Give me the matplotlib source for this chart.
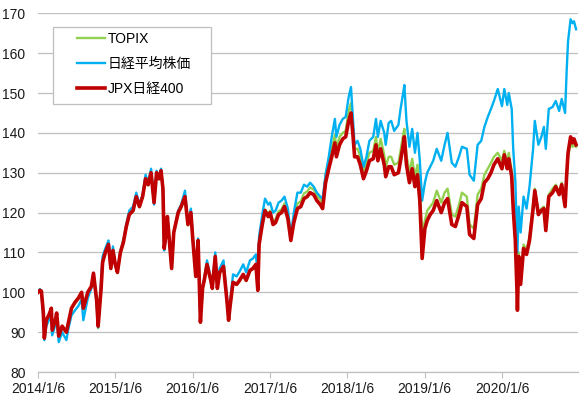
import matplotlib
matplotlib.use("Agg")
import matplotlib.pyplot as plt
from matplotlib.patches import Rectangle
import pandas as pd

plt.rcParams['font.family'] = ['Liberation Sans', 'Noto Sans CJK JP', 'DejaVu Sans']

# 2014/1/6 = 100 (読み取り値)
dates = [
    # 2014
    "2014-01-06", "2014-01-15", "2014-01-22", "2014-01-31", "2014-02-05", "2014-02-14", "2014-02-28",
    "2014-03-10", "2014-03-14", "2014-03-31", "2014-04-04", "2014-04-14", "2014-04-30", "2014-05-20",
    "2014-05-30", "2014-06-13", "2014-06-30", "2014-07-15", "2014-07-31", "2014-08-08", "2014-08-29",
    "2014-09-15", "2014-09-25", "2014-10-10", "2014-10-17", "2014-10-31", "2014-11-07", "2014-11-20",
    "2014-12-05", "2014-12-16", "2014-12-26",
    # 2015
    "2015-01-06", "2015-01-16", "2015-01-30", "2015-02-13", "2015-02-27", "2015-03-13", "2015-03-31",
    "2015-04-15", "2015-04-30", "2015-05-15", "2015-05-29", "2015-06-10", "2015-06-24", "2015-07-08",
    "2015-07-20", "2015-07-31", "2015-08-10", "2015-08-19", "2015-08-25", "2015-09-01", "2015-09-09",
    "2015-09-29", "2015-10-09", "2015-10-30", "2015-11-13", "2015-12-01", "2015-12-15", "2015-12-29",
    # 2016
    "2016-01-06", "2016-01-12", "2016-01-21", "2016-02-01", "2016-02-12", "2016-02-22", "2016-03-01",
    "2016-03-14", "2016-04-01", "2016-04-08", "2016-04-22", "2016-05-02", "2016-05-13", "2016-05-31",
    "2016-06-16", "2016-06-24", "2016-07-01", "2016-07-15", "2016-08-01", "2016-08-15", "2016-09-01",
    "2016-09-15", "2016-10-03", "2016-10-17", "2016-10-31", "2016-11-09", "2016-11-15", "2016-11-30",
    "2016-12-13", "2016-12-28",
    # 2017
    "2017-01-06", "2017-01-20", "2017-02-01", "2017-02-15", "2017-03-01", "2017-03-15", "2017-03-31",
    "2017-04-14", "2017-04-28", "2017-05-15", "2017-05-31", "2017-06-15", "2017-06-30", "2017-07-14",
    "2017-07-31", "2017-08-15", "2017-08-31", "2017-09-11", "2017-09-25", "2017-10-10", "2017-10-24",
    "2017-11-08", "2017-11-15", "2017-11-30", "2017-12-15", "2017-12-29",
    # 2018
    "2018-01-12", "2018-01-23", "2018-02-02", "2018-02-09", "2018-02-23", "2018-03-08", "2018-03-23",
    "2018-04-06", "2018-04-20", "2018-05-08", "2018-05-21", "2018-05-30", "2018-06-12", "2018-06-29",
    "2018-07-06", "2018-07-20", "2018-08-01", "2018-08-15", "2018-09-04", "2018-09-14", "2018-09-28",
    "2018-10-02", "2018-10-12", "2018-10-26", "2018-11-08", "2018-11-21", "2018-12-03", "2018-12-14",
    "2018-12-25",
    # 2019
    "2019-01-07", "2019-01-18", "2019-02-01", "2019-02-15", "2019-03-04", "2019-03-25", "2019-04-10",
    "2019-04-24", "2019-05-14", "2019-05-31", "2019-06-17", "2019-07-01", "2019-07-24", "2019-08-06",
    "2019-08-26", "2019-09-13", "2019-09-30", "2019-10-15", "2019-10-31", "2019-11-15", "2019-11-29",
    "2019-12-17",
    # 2020
    "2020-01-06", "2020-01-17", "2020-01-31", "2020-02-07", "2020-02-21", "2020-02-28", "2020-03-09",
    "2020-03-17", "2020-03-19", "2020-03-25", "2020-04-03", "2020-04-17", "2020-05-01", "2020-05-15",
    "2020-06-01", "2020-06-09", "2020-06-26", "2020-07-10", "2020-07-22", "2020-07-31", "2020-08-14",
    "2020-09-01", "2020-09-16", "2020-10-02", "2020-10-14", "2020-10-30", "2020-11-06", "2020-11-13",
    "2020-11-25", "2020-12-04", "2020-12-11", "2020-12-21",
]

jpx400 = [
    # 2014
    100.0, 100.5, 100.3, 95.0, 88.5, 93.0, 94.5, 96.0, 90.5, 93.5, 94.8, 89.0, 91.5, 90.0,
    92.5, 96.0, 97.5, 98.5, 100.0, 96.0, 100.0, 101.5, 104.8, 98.0, 91.5, 101.0, 107.5, 110.0,
    112.0, 106.0, 110.5,
    # 2015
    107.0, 105.0, 110.0, 112.5, 116.5, 119.5, 120.5, 124.0, 121.5, 124.0, 128.5, 127.0, 130.0, 122.5,
    130.0, 128.5, 130.5, 126.0, 111.0, 114.0, 119.0, 106.0, 115.0, 120.0, 121.5, 124.0, 117.0, 120.0,
    # 2016
    114.0, 110.0, 104.0, 113.0, 92.5, 101.0, 103.0, 107.0, 103.0, 101.0, 109.0, 101.0, 105.0, 106.5,
    98.0, 93.0, 96.5, 102.5, 102.0, 103.0, 104.5, 103.0, 105.5, 106.0, 107.0, 100.5, 112.0, 117.0,
    120.5, 119.0,
    # 2017
    120.0, 117.0, 117.5, 119.5, 120.0, 121.5, 118.5, 113.0, 117.5, 121.0, 121.5, 123.5, 124.0, 125.0,
    124.5, 123.0, 122.0, 121.0, 127.5, 131.0, 134.0, 137.5, 134.0, 137.0, 138.5, 139.0,
    # 2018
    143.0, 145.0, 139.0, 134.0, 134.0, 132.0, 128.5, 130.5, 133.0, 133.5, 137.0, 133.0, 136.0, 132.0,
    129.0, 131.5, 131.5, 129.5, 130.0, 133.0, 137.5, 139.0, 132.0, 127.5, 131.0, 126.5, 129.5, 123.0,
    108.5,
    # 2019
    116.0, 118.0, 119.5, 120.5, 123.0, 120.0, 122.5, 123.5, 117.0, 116.5, 119.5, 122.5, 121.5, 114.5,
    113.5, 122.0, 123.5, 127.5, 128.5, 130.0, 132.0, 133.5,
    # 2020
    131.0, 134.5, 131.0, 133.5, 129.0, 121.0, 113.0, 100.0, 95.5, 109.0, 102.0, 111.0, 109.5, 113.0,
    121.0, 125.5, 119.5, 120.5, 121.0, 115.5, 124.0, 125.0, 126.5, 124.5, 127.0, 121.5, 129.0, 135.0,
    139.0, 137.5, 138.5, 137.0,
]

topix = [
    # 2014
    100.0, 100.3, 100.0, 95.0, 89.0, 92.8, 94.2, 95.8, 90.3, 93.3, 94.5, 89.0, 91.3, 89.8,
    92.3, 95.8, 97.3, 98.3, 99.8, 95.8, 99.8, 101.3, 104.5, 97.8, 91.0, 100.8, 107.3, 109.8,
    111.8, 105.8, 110.3,
    # 2015
    106.8, 104.8, 109.8, 112.3, 116.3, 119.3, 120.3, 123.8, 121.3, 123.8, 128.3, 126.8, 129.8, 122.3,
    129.8, 128.3, 130.3, 125.8, 110.8, 113.8, 118.8, 105.8, 114.8, 119.8, 121.3, 123.8, 116.8, 119.8,
    # 2016
    113.8, 109.8, 103.8, 112.8, 92.3, 100.8, 102.8, 106.8, 102.8, 100.8, 108.8, 100.8, 104.8, 106.3,
    97.8, 92.8, 96.3, 102.3, 101.8, 102.8, 104.3, 102.8, 105.3, 105.8, 106.8, 100.5, 112.0, 117.2,
    120.8, 119.5,
    # 2017
    120.5, 117.8, 118.3, 120.3, 120.8, 122.3, 119.3, 113.8, 118.5, 122.3, 122.8, 124.8, 125.3, 126.3,
    125.8, 124.3, 123.3, 122.3, 129.5, 133.0, 136.0, 139.5, 136.0, 139.0, 140.0, 140.5,
    # 2018
    145.5, 147.5, 141.0, 136.0, 136.0, 134.0, 130.5, 132.5, 135.0, 135.5, 139.0, 135.0, 138.5, 134.5,
    131.5, 134.0, 134.0, 132.0, 132.5, 135.5, 140.0, 141.0, 134.5, 130.0, 133.5, 129.0, 132.0, 125.5,
    115.0,
    # 2019
    118.0, 120.5, 121.5, 122.5, 125.5, 122.5, 125.0, 126.0, 119.5, 119.0, 122.0, 125.0, 124.0, 117.0,
    116.0, 124.5, 126.0, 129.5, 131.0, 132.5, 134.0, 135.0,
    # 2020
    133.0, 135.5, 132.5, 135.0, 130.5, 122.5, 114.5, 101.0, 96.5, 110.0, 103.0, 112.0, 110.5, 114.0,
    122.0, 126.0, 120.0, 121.0, 121.5, 116.5, 124.5, 126.0, 127.0, 125.0, 127.5, 122.0, 129.0, 134.0,
    137.5, 136.5, 137.0, 136.5,
]

nikkei = [
    # 2014
    100.0, 100.8, 100.2, 93.8, 88.0, 91.5, 93.2, 94.8, 89.2, 92.2, 93.5, 87.5, 90.0, 88.0,
    91.0, 94.2, 95.5, 96.5, 98.2, 93.0, 98.5, 101.0, 104.5, 97.0, 91.2, 103.0, 109.0, 111.0,
    113.0, 106.0, 111.5,
    # 2015
    107.0, 105.2, 110.3, 113.0, 117.0, 120.5, 121.5, 125.0, 122.0, 124.5, 129.5, 127.5, 131.0, 122.0,
    130.5, 129.0, 131.0, 126.0, 110.5, 114.0, 119.0, 106.0, 115.0, 120.5, 122.0, 125.5, 117.5, 121.0,
    # 2016
    114.5, 110.3, 104.0, 113.5, 93.0, 101.5, 103.5, 108.0, 103.5, 101.5, 110.0, 101.8, 106.0, 108.0,
    98.5, 93.2, 97.5, 104.5, 104.0, 105.2, 107.0, 105.0, 108.0, 108.5, 109.5, 104.0, 114.0, 119.5,
    123.5, 122.0,
    # 2017
    122.5, 120.0, 120.5, 122.5, 123.0, 124.0, 121.0, 114.0, 120.0, 125.0, 125.0, 127.0, 126.5, 127.5,
    126.5, 125.0, 124.0, 123.5, 129.5, 134.0, 139.0, 143.5, 139.0, 142.0, 143.5, 144.0,
    # 2018
    149.0, 151.5, 143.0, 137.0, 138.0, 136.0, 131.5, 134.0, 138.0, 139.0, 143.5, 139.0, 143.0, 140.0,
    137.0, 142.5, 143.0, 140.5, 142.0, 146.0, 150.5, 152.0, 143.0, 136.5, 141.0, 135.0, 140.0, 133.0,
    123.0,
    # 2019
    127.5, 130.0, 131.5, 133.0, 136.0, 133.0, 137.0, 140.0, 132.5, 131.5, 134.0, 136.5, 136.0, 129.5,
    128.0, 137.0, 138.0, 141.5, 144.0, 146.0, 148.0, 151.0,
    # 2020
    146.7, 151.0, 147.0, 150.0, 146.0, 136.0, 128.0, 114.0, 110.0, 121.5, 115.0, 124.0, 121.0, 126.5,
    136.0, 143.0, 137.0, 139.0, 141.5, 136.0, 146.0, 146.5, 148.0, 145.5, 148.5, 145.0, 155.0, 163.0,
    168.5, 167.5, 168.0, 166.0,
]

x = pd.to_datetime(dates)

W, H = 580, 400
fig = plt.figure(figsize=(W / 100, H / 100), dpi=100)
ax = fig.add_axes([38 / W, 28 / H, 540 / W, 358.7 / H])

ax.plot(x, topix, color='#92d050', lw=1.7, label='TOPIX')
ax.plot(x, nikkei, color='#00b0f0', lw=1.7, label='日経平均株価')
ax.plot(x, jpx400, color='#c00000', lw=2.6, label='JPX日経400')

ax.set_ylim(80, 170)
ax.set_yticks(range(80, 171, 10))
ax.set_xlim(pd.Timestamp("2014-01-06"), pd.Timestamp("2020-12-30"))
ticks = pd.to_datetime([f"{y}-01-06" for y in range(2014, 2021)])
ax.set_xticks(ticks)
ax.set_xticklabels([f"{t.year}/1/6" for t in ticks])

ax.yaxis.grid(True, color='#bfbfbf', lw=0.9)
ax.set_axisbelow(True)
for s in ['top', 'right', 'left']:
    ax.spines[s].set_visible(False)
ax.spines['bottom'].set_color('#bfbfbf')
ax.spines['bottom'].set_linewidth(0.9)
ax.tick_params(axis='y', length=0, labelsize=10, pad=9, colors='#1a1a1a')
ax.tick_params(axis='x', length=4, color='#bfbfbf', labelsize=10, pad=3, labelcolor='#1a1a1a')

# 凡例の枠
box = Rectangle((53 / W, 1 - 104 / H), 158 / W, 77 / H, transform=fig.transFigure,
                facecolor='white', edgecolor='#bfbfbf', lw=0.9, zorder=4, clip_on=False)
ax.add_patch(box)

leg = ax.legend(loc='upper left', bbox_to_anchor=(77 / W, 1 - 32 / H),
                bbox_transform=fig.transFigure, fontsize=10, frameon=False,
                handlelength=2.0, handletextpad=0.2, labelspacing=0.8,
                borderpad=0, borderaxespad=0)
leg.set_zorder(5)

fig.savefig("out.png", dpi=100)
